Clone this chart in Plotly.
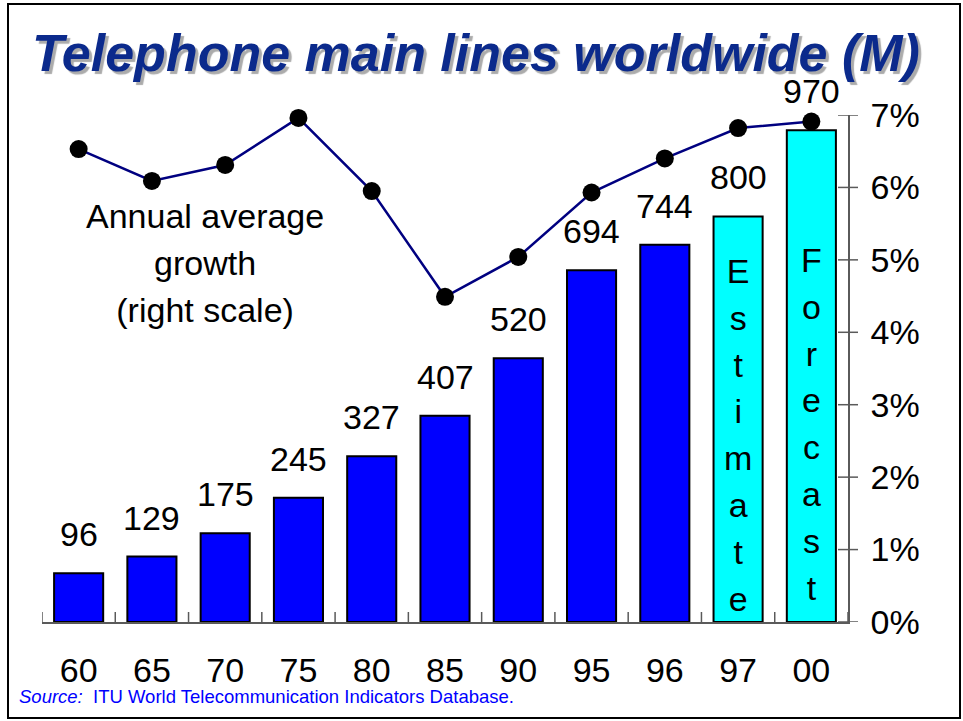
import plotly.graph_objects as go

# Telephone main lines worldwide, millions, with annual average growth (%)
years = ["60", "65", "70", "75", "80", "85", "90", "95", "96", "97", "00"]
lines_m = [96, 129, 175, 245, 327, 407, 520, 694, 744, 800, 970]
growth_pct = [6.53, 6.09, 6.31, 6.96, 5.95, 4.49, 5.04, 5.93, 6.40, 6.82, 6.91]
bar_kind = ["actual"] * 9 + ["estimate", "forecast"]
right_ticks = [0, 1, 2, 3, 4, 5, 6, 7]

FONT = "Arial, 'Liberation Sans', sans-serif"
TXT = 34
W, H = 963, 721
L, R, T, B = 42, 115, 115, 99
PW, PH = W - L - R, H - T - B

def px_x(px):
    return (px - L) / PW

def px_y(py):
    return (H - B - py) / PH

kind_color = {"actual": "#0000FF", "estimate": "#00FFFF", "forecast": "#00FFFF"}
idx = list(range(len(years)))

fig = go.Figure()
fig.add_trace(go.Bar(
    x=idx, y=lines_m,
    marker=dict(color=[kind_color[k] for k in bar_kind],
                line=dict(color="black", width=2)),
    width=0.67, hoverinfo="skip", showlegend=False, yaxis="y",
))
fig.add_trace(go.Scatter(
    x=idx, y=growth_pct, mode="lines+markers",
    line=dict(color="#000080", width=2.5),
    marker=dict(color="black", size=18),
    cliponaxis=False, showlegend=False, yaxis="y2",
))

ann = []
# value labels above bars
for i, v in zip(idx, lines_m):
    ann.append(dict(x=i, y=v, xref="x", yref="y", text=str(v), showarrow=False,
                    xanchor="center", yanchor="middle", yshift=39,
                    font=dict(family=FONT, size=TXT, color="black")))

def stacked(parts):
    return "<br>".join(f"<span style='font-size:{TXT}px'>{c}</span>" for c in parts)

# vertical words inside the last two bars
for i, k in zip(idx, bar_kind):
    if k == "estimate":
        ann.append(dict(x=i, y=px_y(435), xref="x", yref="paper", text=stacked("Estimate"),
                        showarrow=False, xanchor="center", yanchor="middle",
                        font=dict(family=FONT, size=36, color="black")))
    elif k == "forecast":
        ann.append(dict(x=i, y=px_y(424), xref="x", yref="paper", text=stacked("Forecast"),
                        showarrow=False, xanchor="center", yanchor="middle",
                        font=dict(family=FONT, size=36, color="black")))

# series label
ann.append(dict(x=px_x(205), y=px_y(263), xref="paper", yref="paper",
                text=stacked(["Annual average", "growth", "(right scale)"]),
                showarrow=False, align="center", xanchor="center", yanchor="middle",
                font=dict(family=FONT, size=36, color="black")))

# title with drop shadow
ann.append(dict(x=px_x(476), y=px_y(53), xref="paper", yref="paper",
                text="<b><i>Telephone main lines worldwide (M)</i></b>",
                showarrow=False, xanchor="center", yanchor="middle",
                font=dict(family=FONT, size=52, color="#0B2A8C",
                          shadow="3px 3px 1px #ABABAB")))

# source note
ann.append(dict(x=px_x(17), y=px_y(696), xref="paper", yref="paper",
                xanchor="left", yanchor="middle",
                text="<i>Source:</i>  ITU World Telecommunication Indicators Database.",
                showarrow=False, font=dict(family=FONT, size=18.5, color="#0000FF")))

shapes = []
AXC = "#5A5A5A"
# category boundary ticks crossing the x axis
for b in range(len(years) + 1):
    shapes.append(dict(type="line", xref="x", yref="y", x0=b - 0.5, x1=b - 0.5,
                       ysizemode="pixel", yanchor=0, y0=-10, y1=10,
                       line=dict(color=AXC, width=1.5)))
# ticks crossing the right axis
for v in right_ticks:
    shapes.append(dict(type="line", xref="paper", yref="y2", y0=v, y1=v,
                       xsizemode="pixel", xanchor=1, x0=-10, x1=10,
                       line=dict(color=AXC, width=1.5)))
# outer frame
shapes.append(dict(type="rect", xref="paper", yref="paper",
                   x0=px_x(8), x1=px_x(960), y0=px_y(718), y1=px_y(4),
                   line=dict(color="black", width=2), fillcolor="rgba(0,0,0,0)"))

fig.update_layout(
    width=W, height=H,
    margin=dict(l=L, r=R, t=T, b=B, pad=0),
    paper_bgcolor="white", plot_bgcolor="white",
    bargap=0.33,
    xaxis=dict(range=[-0.5, len(years) - 0.5], tickvals=idx, ticktext=years,
               showgrid=False, zeroline=False, showline=True, linecolor=AXC,
               linewidth=1.5, ticks="", ticklabelstandoff=17,
               tickfont=dict(family=FONT, size=TXT, color="black")),
    yaxis=dict(range=[0, 1000], visible=False, showgrid=False),
    yaxis2=dict(range=[0, 7], overlaying="y", side="right", tickvals=right_ticks,
                ticktext=[f"{v}%" for v in right_ticks], showgrid=False,
                zeroline=False, showline=True, linecolor=AXC, linewidth=1.5,
                ticks="", ticklabelstandoff=14,
                tickfont=dict(family=FONT, size=TXT, color="black")),
    annotations=ann, shapes=shapes,
)

fig.write_html("out.html")
